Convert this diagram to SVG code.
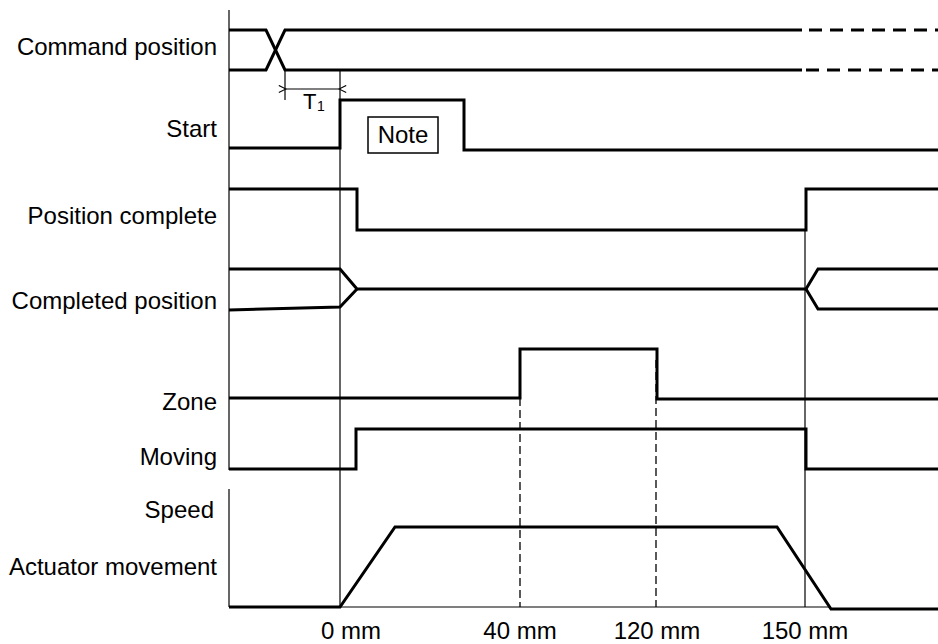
<svg xmlns="http://www.w3.org/2000/svg" width="938" height="644" viewBox="0 0 938 644">
<style>
text{font-family:"Liberation Sans",Arial,sans-serif;font-size:24px;fill:#000}
.lbl{text-anchor:end}
.ctr{text-anchor:middle}
.sig{fill:none;stroke:#000;stroke-width:3;stroke-linejoin:miter}
.thin{fill:none;stroke:#000;stroke-width:1.2}
.dash{fill:none;stroke:#000;stroke-width:3;stroke-dasharray:13 8}
.vdash{fill:none;stroke:#000;stroke-width:1.3;stroke-dasharray:8 4}
</style>
<defs>
<marker id="chev" viewBox="0 0 10 10" refX="1" refY="5" markerWidth="9" markerHeight="9" orient="auto-start-reverse" markerUnits="userSpaceOnUse">
<path d="M9,1 L1,5 L9,9" fill="none" stroke="#000" stroke-width="1.2"/>
</marker>
</defs>
<rect width="938" height="644" fill="#fff"/>
<g id="connectors">
<path class="thin" d="M229,10 V470"/>
<path class="thin" d="M229,489 V607"/>
<path class="thin" d="M340,70 V607"/>
<path class="thin" d="M805,230 V607"/>
<path class="thin" d="M285,70 V100"/>
<path class="thin" d="M340,607 H831"/>
<path class="vdash" d="M520,398 V607"/>
<path class="vdash" d="M656,360 V607"/>
<path class="thin" d="M286,89 H339" marker-start="url(#chev)" marker-end="url(#chev)"/>
</g>
<g id="command-position">
<text class="lbl" x="217" y="55">Command position</text>
<path class="sig" d="M229,30 H266 L285,70 H802"/>
<path class="sig" d="M229,70 H266 L285,30 H802"/>
<path class="dash" d="M809,30 H938"/>
<path class="dash" d="M806,70 H938"/>
</g>
<g id="t1">
<text x="303" y="109" style="font-size:22px">T</text>
<text x="317" y="111" style="font-size:14px">1</text>
</g>
<g id="start">
<text class="lbl" x="217" y="137">Start</text>
<path class="sig" d="M229,148 H340 V100 H464 V150 H938"/>
</g>
<g id="note">
<rect x="368" y="117" width="70" height="36" fill="#fff" stroke="#000" stroke-width="1.5"/>
<text class="ctr" x="403" y="143">Note</text>
</g>
<g id="position-complete">
<text class="lbl" x="217" y="224">Position complete</text>
<path class="sig" d="M229,189 H357 V230 H806 V189 H938"/>
</g>
<g id="completed-position">
<text class="lbl" x="217" y="309">Completed position</text>
<path class="sig" d="M229,269 H340 L357,289 H806 L818,269 H938"/>
<path class="sig" d="M229,310 L340,307 L357,289"/>
<path class="sig" d="M806,289 L818,309 H938"/>
</g>
<g id="zone">
<text class="lbl" x="217" y="410">Zone</text>
<path class="sig" d="M229,398 H520 V349 H657 V399 H938"/>
</g>
<g id="moving">
<text class="lbl" x="217" y="465">Moving</text>
<path class="sig" d="M229,469 H356 V429 H806 V469 H938"/>
</g>
<g id="speed">
<text class="lbl" x="214" y="518">Speed</text>
<text class="lbl" x="217" y="575">Actuator movement</text>
<path class="sig" d="M229,607 H340 L395,527 H777 L831,609 H938"/>
</g>
<g id="axis-labels">
<text class="ctr" x="351" y="639">0 mm</text>
<text class="ctr" x="520" y="639">40 mm</text>
<text class="ctr" x="657" y="639">120 mm</text>
<text class="ctr" x="805" y="639">150 mm</text>
</g>
</svg>
